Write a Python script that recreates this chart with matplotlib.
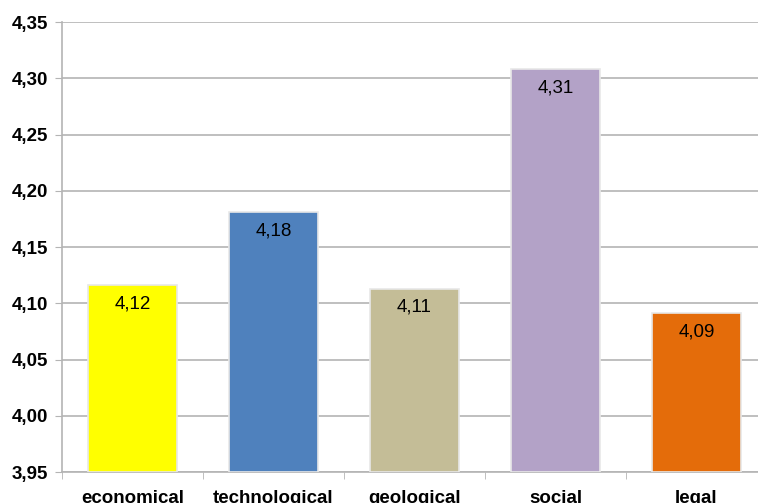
import numpy as np
import matplotlib.pyplot as plt
from matplotlib.ticker import FuncFormatter, MultipleLocator

plt.rcParams['font.family'] = ['Liberation Sans', 'DejaVu Sans']

# данные
categories = ['economical', 'technological', 'geological', 'social', 'legal']
values = [4.116, 4.181, 4.113, 4.308, 4.091]
labels = ['4,12', '4,18', '4,11', '4,31', '4,09']
colors = ['#ffff00', '#4f81bd', '#c4bd97', '#b3a2c7', '#e46c0a']

fig = plt.figure(figsize=(7.58, 5.03), dpi=100)
ax = fig.add_axes([0.0818, 0.0616, 0.93, 0.8946])

x = np.arange(len(categories))
bars = ax.bar(x, np.array(values) - 3.95, bottom=3.95, width=0.63,
              color=colors, edgecolor='#e8e8e8', linewidth=1.2, zorder=3)

for b, lab in zip(bars, labels):
    ax.text(b.get_x() + b.get_width() / 2, b.get_y() + b.get_height() - 0.009, lab,
            ha='center', va='top', fontsize=13.5, color='black', zorder=4)

ax.set_ylim(3.95, 4.35)
ax.set_xlim(-0.5, 4.5)
ax.yaxis.set_major_locator(MultipleLocator(0.05))
ax.yaxis.set_major_formatter(FuncFormatter(lambda v, p: f'{v:.2f}'.replace('.', ',')))
ax.grid(axis='y', color='#b4b4b4', linewidth=1.2, zorder=0)

ax.set_xticks(x)
ax.set_xticklabels(categories, fontsize=13.5, fontweight='bold')
ax.set_xticks(np.arange(-0.5, 5, 1), minor=True)
ax.tick_params(axis='x', which='major', length=0, pad=13)
ax.tick_params(axis='x', which='minor', length=5, color='#b4b4b4')
ax.tick_params(axis='y', length=5, color='#b4b4b4', labelsize=13.5, pad=5)
for t in ax.get_yticklabels():
    t.set_fontweight('bold')

for s in ['top', 'right']:
    ax.spines[s].set_visible(False)
for s in ['left', 'bottom']:
    ax.spines[s].set_color('#b4b4b4')
    ax.spines[s].set_linewidth(1.2)

fig.savefig('out.png', dpi=100)
